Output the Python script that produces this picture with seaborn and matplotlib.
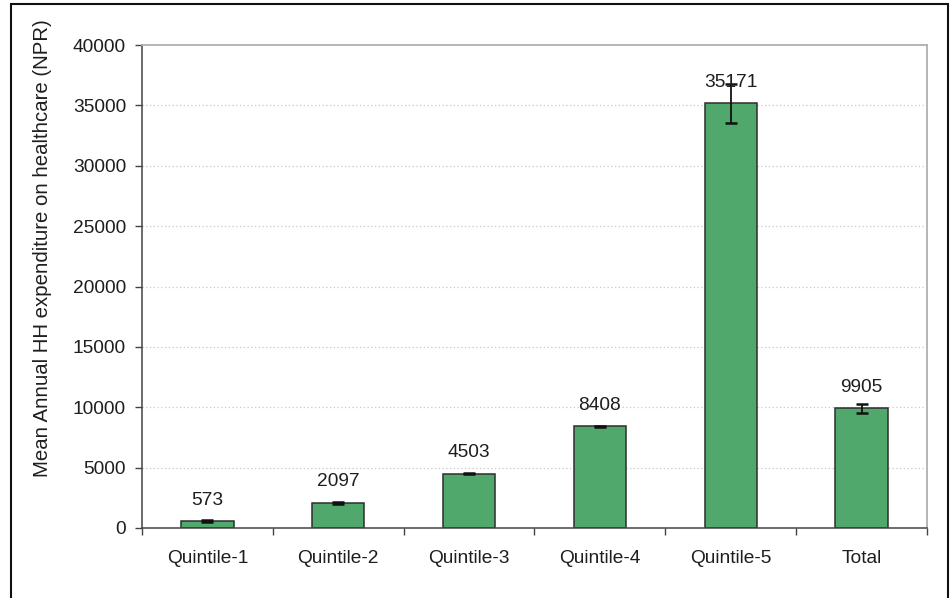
import matplotlib
matplotlib.use("Agg")
import matplotlib.pyplot as plt
from matplotlib.patches import Rectangle
from matplotlib.ticker import FixedLocator, MultipleLocator
import seaborn as sns
import pandas as pd
import numpy as np

# Mean annual household health expenditure by wealth quintile
categories = ["Quintile-1", "Quintile-2", "Quintile-3", "Quintile-4", "Quintile-5", "Total"]
mean_spend = [573, 2097, 4503, 8408, 35171, 9905]
error_half = [100, 80, 60, 60, 1600, 400]
y_ticks = [0, 5000, 10000, 15000, 20000, 25000, 30000, 35000, 40000]

sns.set_theme(style="white")
plt.rcParams["font.family"] = ["Liberation Sans", "DejaVu Sans"]

df = pd.DataFrame({"group": categories, "spend": mean_spend})

fig = plt.figure(figsize=(9.51, 5.98), dpi=100)
ax = fig.add_axes([142 / 951, 1 - 528 / 598, (927 - 142) / 951, (528 - 45) / 598])

sns.barplot(data=df, x="group", y="spend", order=categories, color="#50A86C",
            saturation=1, width=0.4, edgecolor="#2e2e2e", linewidth=1.1,
            errorbar=None, ax=ax)

xs = np.arange(len(categories))
ax.errorbar(xs, mean_spend, yerr=error_half, fmt="none", ecolor="#111111",
            elinewidth=1.3, capsize=4.5, capthick=1.8, zorder=4)

# value labels just above each bar
for x, v in zip(xs, mean_spend):
    ax.annotate(f"{v}", xy=(x, v), xytext=(0, 15), textcoords="offset points",
                ha="center", va="center", fontsize=13.8, color="#1e1e1e", zorder=5)

ax.set_xlim(-0.5, len(categories) - 0.5)
ax.set_ylim(0, 40000)
ax.yaxis.set_major_locator(FixedLocator(y_ticks))
ax.set_yticklabels([str(t) for t in y_ticks])

# horizontal dotted gridlines
for t in y_ticks[1:-1]:
    ax.axhline(t, color="#c8c8c8", linestyle=(0, (1, 2)), linewidth=0.9, zorder=0)

# category boundary ticks on the x axis
ax.xaxis.set_minor_locator(MultipleLocator(1, offset=0.5))
ax.tick_params(axis="x", which="major", length=0, pad=16, labelsize=13.8, labelcolor="#1e1e1e")
ax.tick_params(axis="x", which="minor", length=5, width=1, color="#444444", direction="out", bottom=True)
ax.tick_params(axis="y", which="major", length=5, width=1, color="#444444", direction="out",
               left=True, pad=6.5, labelsize=13.8, labelcolor="#1e1e1e")
ax.set_xlabel("")
ax.set_ylabel("Mean Annual HH expenditure on healthcare (NPR)", fontsize=14.7, color="#1e1e1e")
ax.yaxis.set_label_coords(-0.115, 0.58)

for side in ("left", "bottom"):
    ax.spines[side].set_color("#444444")
    ax.spines[side].set_linewidth(1.1)
for side in ("top", "right"):
    ax.spines[side].set_visible(True)
    ax.spines[side].set_color("#b0b0b0")
    ax.spines[side].set_linewidth(1.3)

# outer frame around the figure
fig.patches.append(Rectangle((11 / 951, -0.02), (948 - 11) / 951, 1 - 4 / 598 + 0.02,
                             transform=fig.transFigure, fill=False,
                             edgecolor="#111111", linewidth=1.5))

fig.savefig("out.png", dpi=100)
